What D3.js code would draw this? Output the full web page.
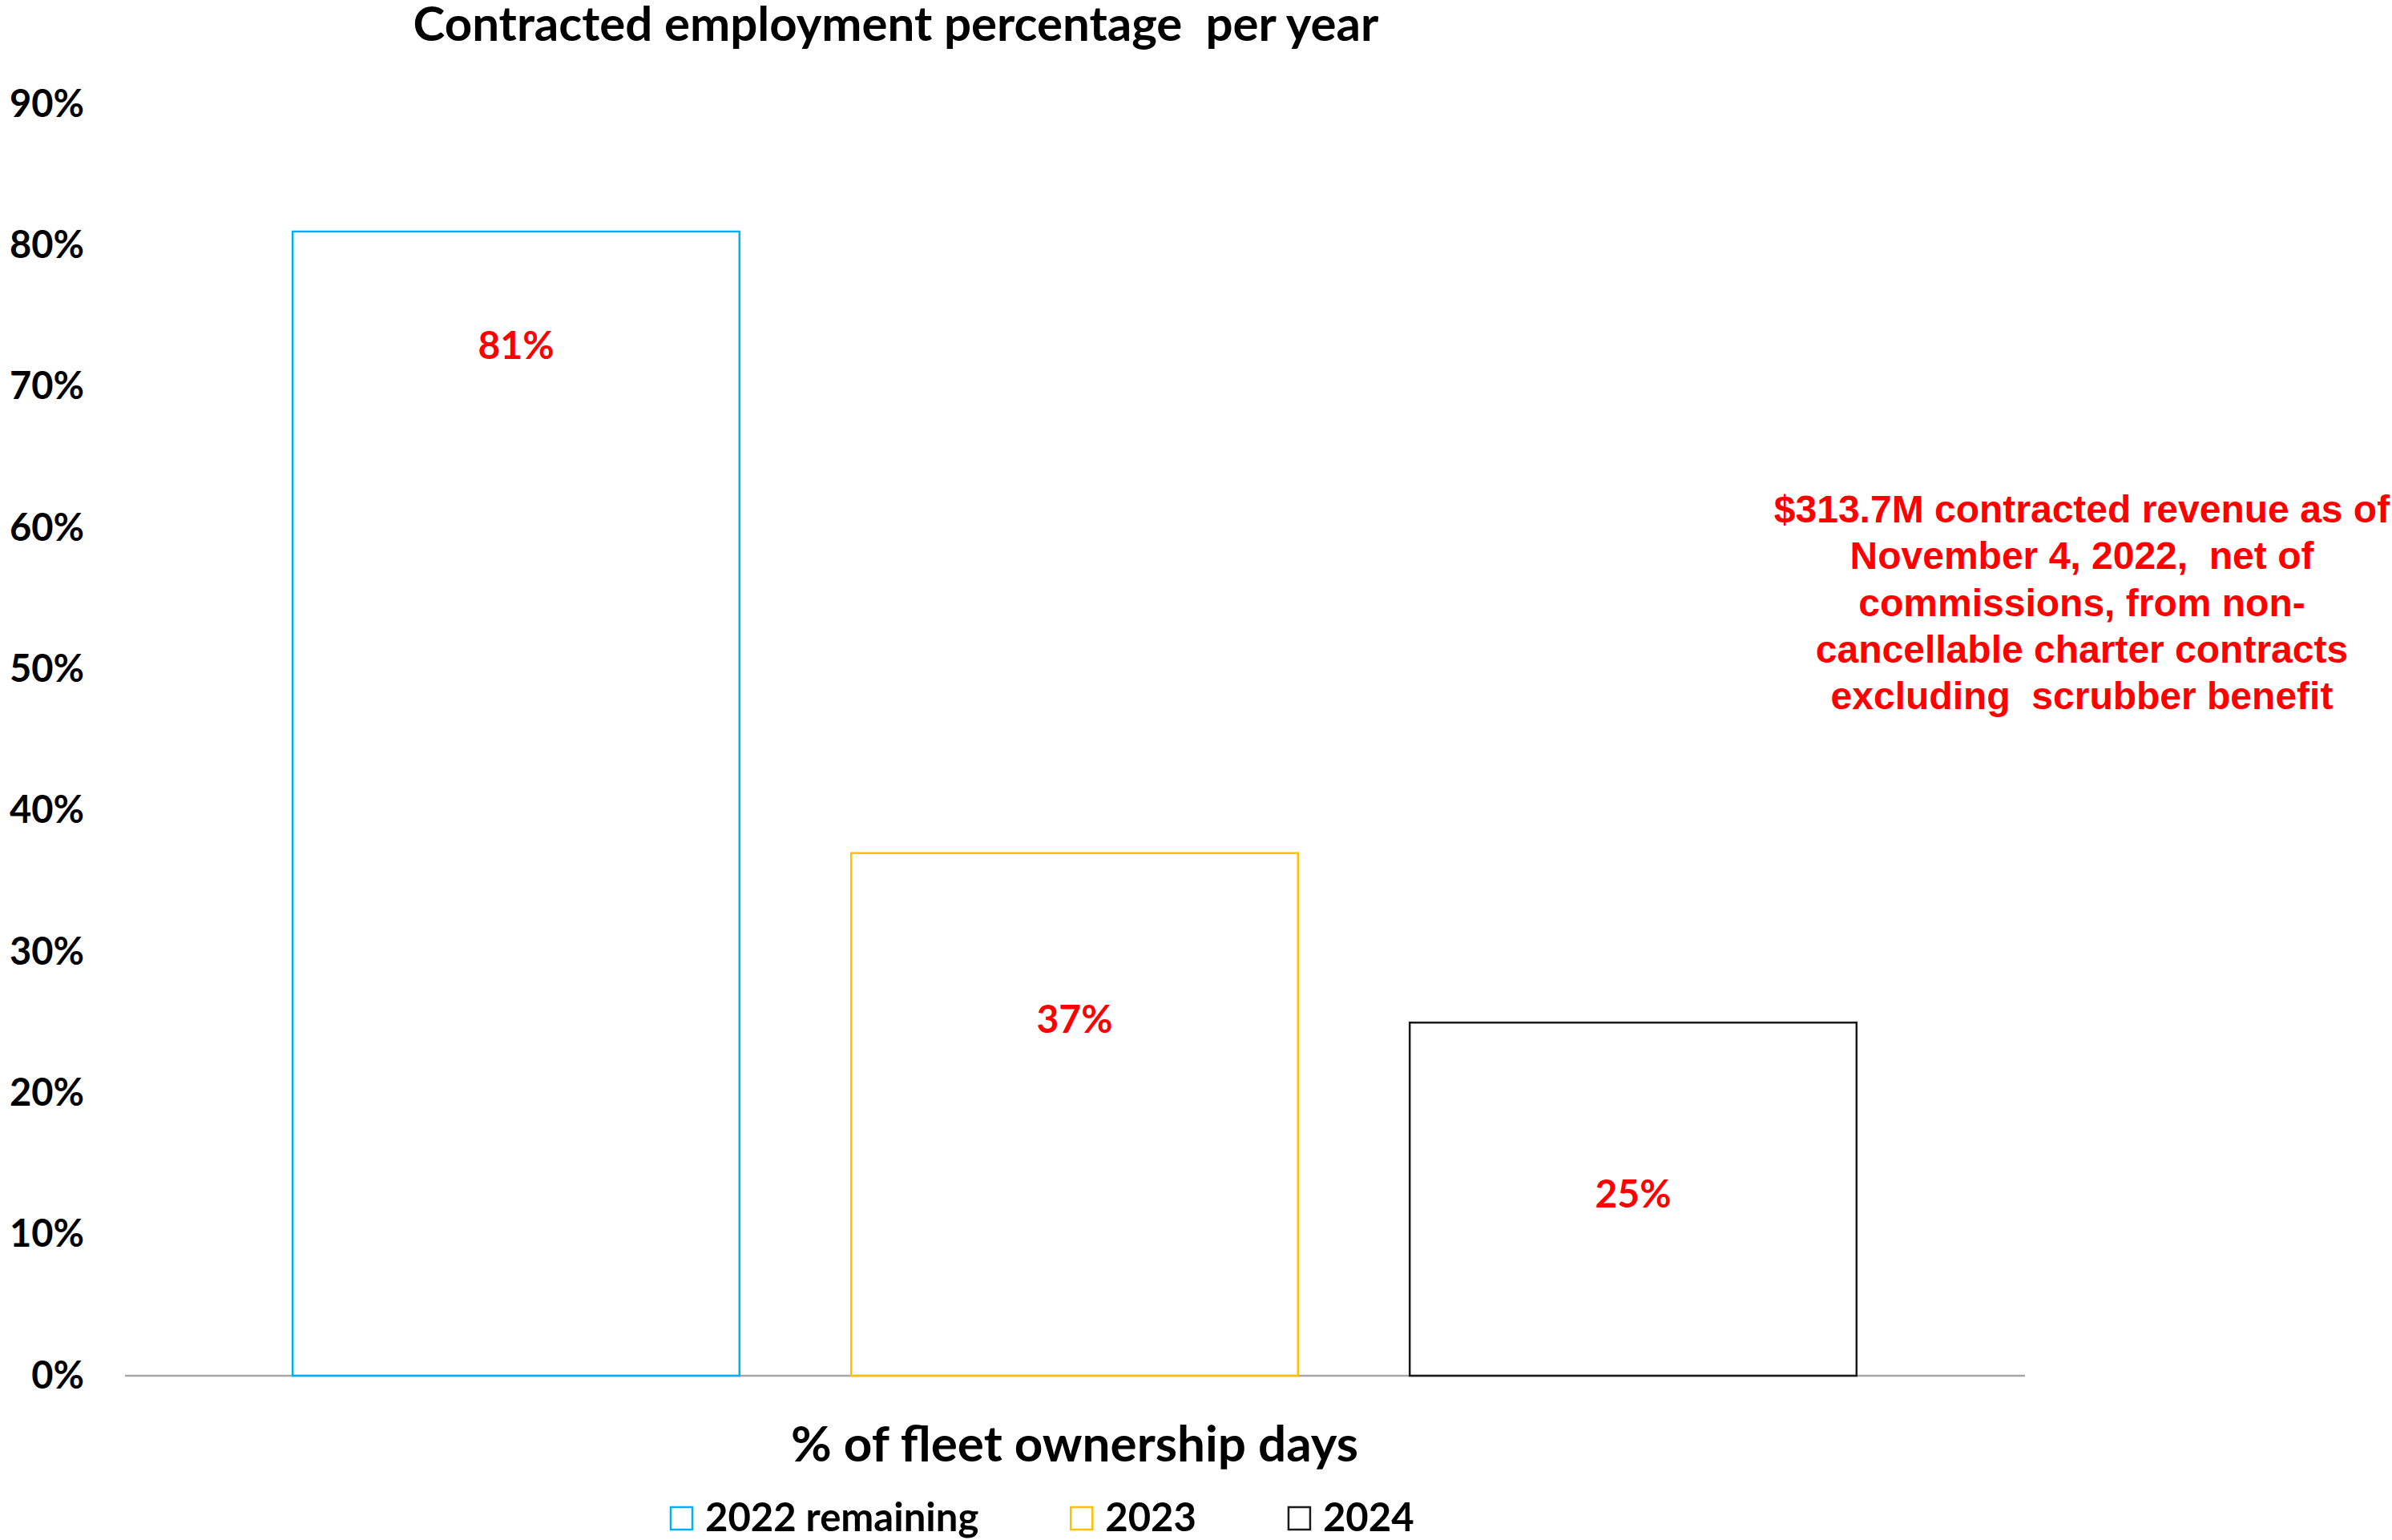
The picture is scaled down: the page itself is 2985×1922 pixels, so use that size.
<!DOCTYPE html>
<html>
<head>
<meta charset="utf-8">
<script src="https://cdn.jsdelivr.net/npm/d3@7"></script>
<style>
    body { margin: 0; background: #fff; }
</style>
</head>
<body>
<div id="chart-area"></div>
<script>
var years = ['2022 remaining', '2023', '2024'];
var shares = [0.81, 0.37, 0.25];
var yTicks = [0, 0.1, 0.2, 0.3, 0.4, 0.5, 0.6, 0.7, 0.8, 0.9];
var barColors = ['#00B0F0', '#FFC000', '#1a1a1a'];
var noteLines = [
    '$313.7M contracted revenue as of',
    'November 4, 2022,  net of',
    'commissions, from non-',
    'cancellable charter contracts',
    'excluding  scrubber benefit'
];

var W = 2985, H = 1922;
var font = 'Lato, "Open Sans", sans-serif';

var svg = d3.select('#chart-area').append('svg')
            .attr('width', W)
            .attr('height', H);

var y = d3.scaleLinear().domain([0, 0.9]).range([1717, 130.3]);
var x = d3.scaleBand().domain(years).range([295.5, 2386.5])
            .paddingInner(0.2).paddingOuter(0.1);

// y axis labels only, no line or ticks
var yAxis = svg.append('g')
    .attr('transform', 'translate(157,0)')
    .call(d3.axisLeft(y).tickValues(yTicks).tickFormat(d3.format('.0%')).tickSize(0).tickPadding(52));
yAxis.select('.domain').remove();
yAxis.selectAll('text')
    .attr('font-family', font)
    .attr('font-weight', 700)
    .attr('font-size', 47)
    .attr('fill', '#000');

// baseline
svg.append('line')
    .attr('x1', 156).attr('x2', 2527)
    .attr('y1', y(0)).attr('y2', y(0))
    .attr('stroke', '#a6a6a6')
    .attr('stroke-width', 2.5);

svg.selectAll('rect.bar').data(shares).enter().append('rect')
    .attr('class', 'bar')
    .attr('x', (d, i) => x(years[i]))
    .attr('y', (d) => y(d))
    .attr('width', x.bandwidth())
    .attr('height', (d) => y(0) - y(d))
    .attr('fill', 'none')
    .attr('stroke', (d, i) => barColors[i])
    .attr('stroke-width', 2.5);

// value labels sit where they were dragged in the original
var labelAt = [0.72, 0.243, 0.119];
svg.selectAll('text.val').data(shares).enter().append('text')
    .attr('class', 'val')
    .attr('x', (d, i) => x(years[i]) + x.bandwidth() / 2)
    .attr('y', (d, i) => y(labelAt[i]))
    .attr('text-anchor', 'middle')
    .attr('font-family', font)
    .attr('font-weight', 700)
    .attr('font-size', 48)
    .attr('fill', '#ff0000')
    .text((d) => d3.format('.0%')(d));

svg.append('text')
    .attr('x', 1118).attr('y', 51)
    .attr('text-anchor', 'middle')
    .attr('font-family', font)
    .attr('font-weight', 700)
    .attr('font-size', 60)
    .attr('xml:space', 'preserve')
    .text('Contracted employment percentage  per year');

svg.append('text')
    .attr('x', 1341).attr('y', 1824)
    .attr('text-anchor', 'middle')
    .attr('font-family', font)
    .attr('font-weight', 700)
    .attr('font-size', 62)
    .text('% of fleet ownership days');

svg.append('text')
    .attr('text-anchor', 'middle')
    .attr('font-family', '"Liberation Sans", Arial, sans-serif')
    .attr('font-weight', 700)
    .attr('font-size', 48)
    .attr('fill', '#ff0000')
    .attr('xml:space', 'preserve')
    .selectAll('tspan').data(noteLines).enter().append('tspan')
    .attr('x', 2598)
    .attr('y', (d, i) => 652 + i * 58.3)
    .text((d) => d);

// legend
var legend = svg.append('g').attr('transform', 'translate(836,1911)');
var lx = 0;
years.forEach((name, i) => {
    var item = legend.append('g').attr('transform', 'translate(' + lx + ',0)');
    item.append('rect')
        .attr('x', 1).attr('y', -30)
        .attr('width', 27).attr('height', 28)
        .attr('fill', 'none')
        .attr('stroke', barColors[i])
        .attr('stroke-width', 2.5);
    var t = item.append('text')
        .attr('x', 44).attr('y', 0)
        .attr('font-family', font)
        .attr('font-weight', 700)
        .attr('font-size', 49)
        .text(name);
    lx += 44 + t.node().getComputedTextLength() + 114;
});
</script>
</body>
</html>
